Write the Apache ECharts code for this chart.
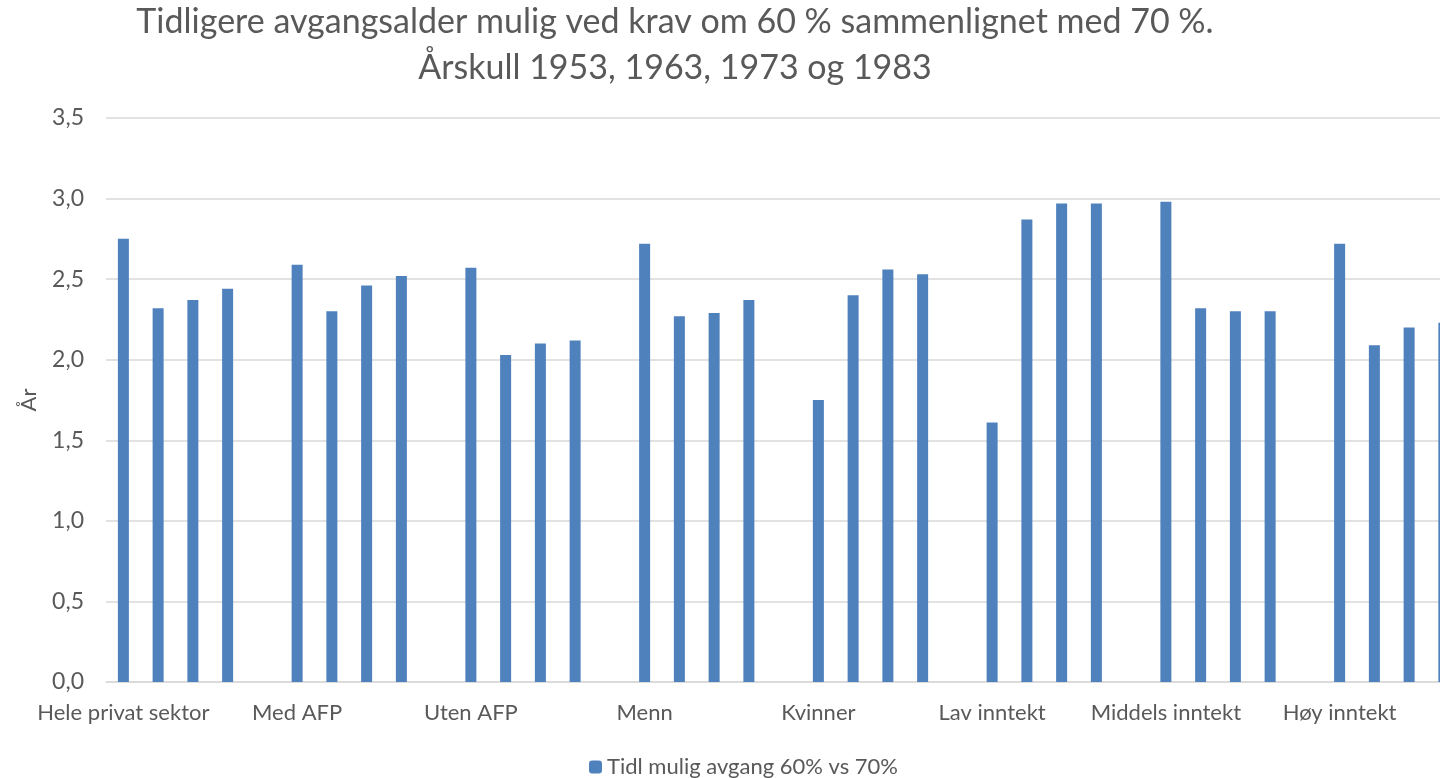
<!DOCTYPE html>
<html>
<head>
<meta charset="utf-8">
<title>Tidligere avgangsalder</title>
<script src="https://cdn.jsdelivr.net/npm/echarts@6/dist/echarts.min.js"></script>
<style>
  html, body { margin: 0; padding: 0; background: #fff; }
  #chart { width: 1440px; height: 778px; }
</style>
</head>
<body>
<div id="chart"></div>
<script>
// grupper langs x-aksen
const groups = ['Hele privat sektor', 'Med AFP', 'Uten AFP', 'Menn', 'Kvinner', 'Lav inntekt', 'Middels inntekt', 'Høy inntekt'];

// år, ett tall per gruppe for hvert årskull
const cohort1953 = [2.75, 2.59, 2.57, 2.72, 1.75, 1.61, 2.98, 2.72];
const cohort1963 = [2.32, 2.30, 2.03, 2.27, 2.40, 2.87, 2.32, 2.09];
const cohort1973 = [2.37, 2.46, 2.10, 2.29, 2.56, 2.97, 2.30, 2.20];
const cohort1983 = [2.44, 2.52, 2.12, 2.37, 2.53, 2.97, 2.30, 2.23];

const yTicks = [0, 0.5, 1.0, 1.5, 2.0, 2.5, 3.0, 3.5];

// fem plasser per gruppe: fire årskull og en tom
let categories = [];
let values = [];
groups.forEach(function (g, i) {
    categories.push(g, '', '', '', '');
    values.push(cohort1953[i], cohort1963[i], cohort1973[i], cohort1983[i], null);
});

var myChart = echarts.init(document.getElementById('chart'));

const font = 'Lato, "Noto Sans", sans-serif';
const grey = '#595959';

let option = {
    animation: false,
    textStyle: { fontFamily: font },
    title: {
        text: 'Tidligere avgangsalder mulig ved krav om 60 % sammenlignet med 70 %.\nÅrskull 1953, 1963, 1973 og 1983',
        left: 670,
        top: -6,
        textAlign: 'center',
        textStyle: {
            fontFamily: font,
            fontSize: 34,
            fontWeight: 'normal',
            color: grey,
            lineHeight: 46
        }
    },
    legend: {
        top: 751,
        left: 584,
        itemWidth: 13,
        itemHeight: 13,
        itemGap: 6,
        textStyle: { fontFamily: font, fontSize: 22, color: grey },
        data: ['Tidl mulig avgang 60% vs 70%']
    },
    grid: {
        left: 106,
        top: 118,
        width: 1390,
        bottom: 96,
        outerBoundsMode: 'none'
    },
    xAxis: {
        type: 'category',
        data: categories,
        axisLine: { lineStyle: { color: '#d9d9d9', width: 1.5 } },
        axisTick: { show: false },
        axisLabel: {
            interval: 0,
            margin: 20,
            fontSize: 22,
            color: grey,
            fontFamily: font
        }
    },
    yAxis: {
        type: 'value',
        min: yTicks[0],
        max: yTicks[yTicks.length - 1],
        interval: 0.5,
        name: 'År',
        nameLocation: 'middle',
        nameGap: 66,
        nameRotate: 90,
        nameTextStyle: { fontSize: 22, color: grey, fontFamily: font },
        axisLine: { show: false },
        axisTick: { show: false },
        axisLabel: {
            margin: 22,
            fontSize: 23,
            color: grey,
            fontFamily: font,
            formatter: function (v) {
                return v.toFixed(1).replace('.', ',');
            }
        },
        splitLine: { lineStyle: { color: '#d9d9d9', width: 1.5 } }
    },
    series: [{
        name: 'Tidl mulig avgang 60% vs 70%',
        type: 'bar',
        barWidth: 11,
        itemStyle: { color: '#4f81bd' },
        data: values
    }]
};

myChart.setOption(option);
</script>
</body>
</html>
